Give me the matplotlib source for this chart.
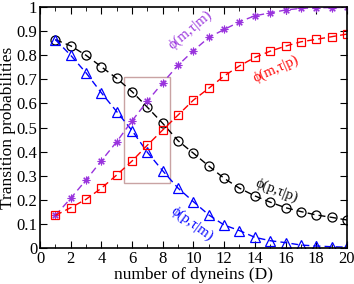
import matplotlib.pyplot as plt
from matplotlib.patches import Rectangle
import numpy as np

plt.rcParams['font.family'] = ['Liberation Serif', 'DejaVu Serif']

D = np.arange(1, 21)
p_p = [0.865, 0.839, 0.80, 0.752, 0.704, 0.649, 0.584, 0.517, 0.445, 0.393,
       0.340, 0.289, 0.248, 0.216, 0.19, 0.167, 0.151, 0.137, 0.127, 0.116]
p_m = [0.865, 0.80, 0.727, 0.644, 0.566, 0.487, 0.397, 0.320, 0.248, 0.192,
       0.137, 0.095, 0.072, 0.044, 0.03, 0.022, 0.012, 0.008, 0.005, 0.003]
m_m = [0.135, 0.206, 0.282, 0.362, 0.441, 0.528, 0.61, 0.686, 0.759, 0.819,
       0.874, 0.907, 0.939, 0.964, 0.976, 0.988, 0.995, 0.997, 0.998, 0.999]
m_p = [0.135, 0.167, 0.202, 0.248, 0.303, 0.361, 0.427, 0.49, 0.552, 0.614,
       0.663, 0.714, 0.756, 0.791, 0.817, 0.838, 0.856, 0.866, 0.877, 0.888]

fig = plt.figure(figsize=(3.54, 2.84), dpi=100)
ax = fig.add_axes([0.113, 0.127, 0.867, 0.848])

dash = (0, (5, 3))
ax.plot(D, p_p, color='black', marker='o', ls=dash, lw=1.0, mfc='none', ms=6.5, mew=0.9)
ax.plot(D, p_m, color='blue', marker='^', ls=dash, lw=1.0, mfc='none', ms=6.5, mew=0.9)
ax.plot(D, m_m, color='#9933dd', marker=(8, 2, 0), ls=dash, lw=1.0, ms=5.5, mew=0.8)
ax.plot(D, m_p, color='red', marker='s', ls=dash, lw=1.0, mfc='none', ms=5.5, mew=0.9)

ax.add_patch(Rectangle((5.5, 0.268), 2.97, 0.44, fill=False, ec='#c9a3a3', lw=1.0))

ax.text(9.8, 0.905, 'ϕ(m,τ|m)', color='#9933dd', fontsize=10.5, rotation=40, ha='center', va='center')
ax.text(15.4, 0.745, 'ϕ(m,τ|p)', color='red', fontsize=10.5, rotation=24, ha='center', va='center')
ax.text(15.4, 0.237, 'ϕ(p,τ|p)', color='black', fontsize=10.5, rotation=-21, ha='center', va='center')
ax.text(9.9, 0.10, 'ϕ(p,τ|m)', color='blue', fontsize=10.5, rotation=-36, ha='center', va='center')

ax.set_xlim(0, 20)
ax.set_ylim(0, 1)
ax.set_xticks(np.arange(0, 21, 2))
ax.set_xticks(np.arange(0, 21, 1), minor=True)
ax.set_yticks(np.arange(0, 1.01, 0.1))
ax.set_yticklabels(['0', '0.1', '0.2', '0.3', '0.4', '0.5', '0.6', '0.7', '0.8', '0.9', '1'])
ax.tick_params(which='both', direction='in', top=True, right=True, labelsize=12, pad=2)
ax.tick_params(which='major', length=5)
ax.tick_params(axis='x', which='minor', length=3)
ax.set_xlabel('number of dyneins (D)', fontsize=12.5, labelpad=0)
ax.set_ylabel('Transition probabilities', fontsize=12.5)
ax.yaxis.set_label_coords(-0.077, 0.5)
for s in ax.spines.values():
    s.set_linewidth(1.2)

fig.savefig('out.png', dpi=100)
